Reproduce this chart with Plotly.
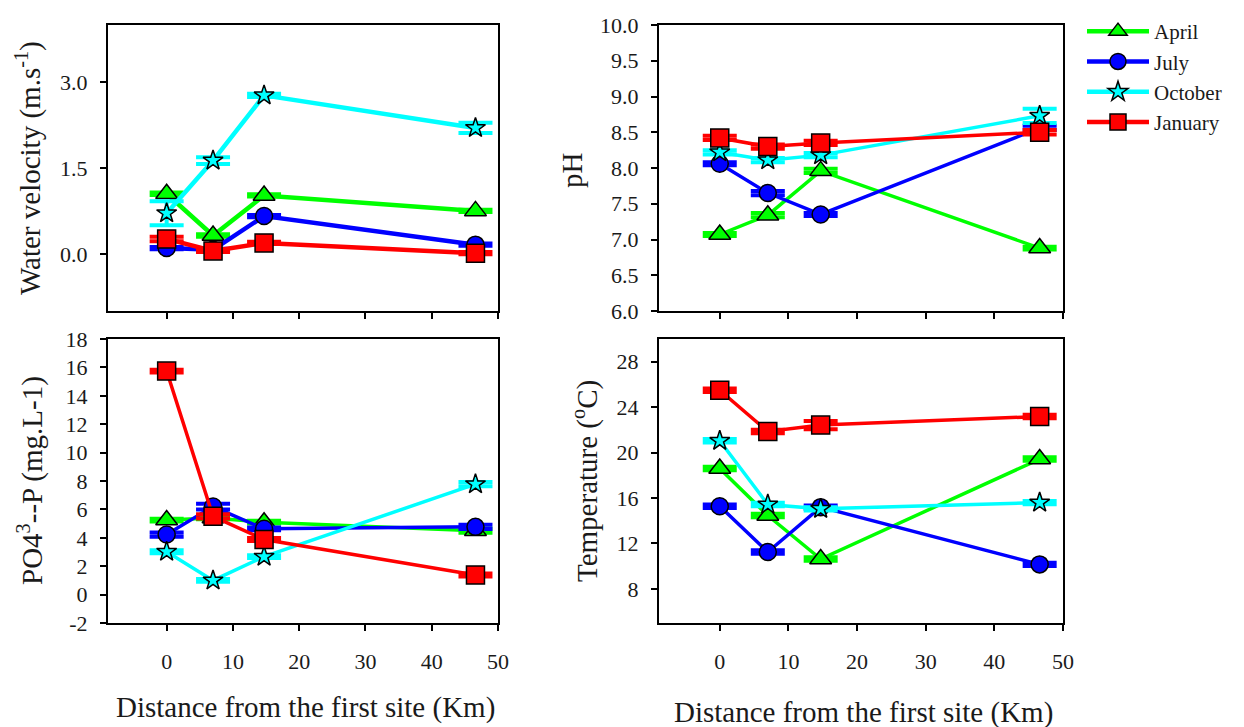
import plotly.graph_objects as go

# ---------------- data ----------------
distance = [0, 7, 14.7, 46.6]
months = ["April", "July", "October", "January"]
colors = ["#00ff00", "#0000ff", "#00ffff", "#ff0000"]
symbols = ["triangle-up", "circle", "star", "square"]
marker_sizes = [19, 17, 15, 18]

x_ticks = [0, 10, 20, 30, 40, 50]
vel_ticks = [0, 1.5, 3.0]
vel_labels = ["0.0", "1.5", "3.0"]
ph_ticks = [6, 6.5, 7, 7.5, 8, 8.5, 9, 9.5, 10]
ph_labels = ["6.0", "6.5", "7.0", "7.5", "8.0", "8.5", "9.0", "9.5", "10.0"]
po4_ticks = [-2, 0, 2, 4, 6, 8, 10, 12, 14, 16, 18]
po4_labels = ["-2", "0", "2", "4", "6", "8", "10", "12", "14", "16", "18"]
temp_ticks = [8, 12, 16, 20, 24, 28]
temp_labels = ["8", "12", "16", "20", "24", "28"]

vel_april = [1.05, 0.32, 1.02, 0.75]
vel_july = [0.10, 0.07, 0.66, 0.16]
vel_october = [0.71, 1.63, 2.77, 2.20]
vel_january = [0.26, 0.05, 0.19, 0.01]
vel_err_april = [0.02, 0.02, 0.02, 0.02]
vel_err_july = [0.02, 0.02, 0.02, 0.02]
vel_err_october = [0.21, 0.06, 0.03, 0.09]
vel_err_january = [0.04, 0.02, 0.02, 0.02]

ph_april = [7.07, 7.34, 7.96, 6.88]
ph_july = [8.06, 7.65, 7.35, 8.56]
ph_october = [8.22, 8.11, 8.18, 8.73]
ph_january = [8.42, 8.30, 8.35, 8.50]
ph_err_april = [0.02, 0.03, 0.03, 0.02]
ph_err_july = [0.02, 0.03, 0.02, 0.03]
ph_err_october = [0.03, 0.03, 0.03, 0.10]
ph_err_january = [0.03, 0.03, 0.03, 0.03]

po4_april = [5.25, 5.4, 5.1, 4.5]
po4_july = [4.23, 6.2, 4.63, 4.77]
po4_october = [3.02, 1.0, 2.67, 7.78]
po4_january = [15.74, 5.51, 3.88, 1.38]
po4_err_april = [0.1, 0.1, 0.1, 0.15]
po4_err_july = [0.15, 0.2, 0.1, 0.15]
po4_err_october = [0.1, 0.1, 0.1, 0.15]
po4_err_january = [0.1, 0.15, 0.1, 0.1]

temp_april = [18.6, 14.46, 10.63, 19.43]
temp_july = [15.28, 11.25, 15.2, 10.16]
temp_october = [21.04, 15.43, 15.05, 15.6]
temp_january = [25.49, 21.86, 22.42, 23.18]
temp_err_april = [0.15, 0.15, 0.15, 0.15]
temp_err_july = [0.15, 0.15, 0.15, 0.15]
temp_err_october = [0.15, 0.15, 0.15, 0.15]
temp_err_january = [0.15, 0.15, 0.37, 0.15]

panels = [
    ("x", "y", [vel_april, vel_july, vel_october, vel_january],
     [vel_err_april, vel_err_july, vel_err_october, vel_err_january], 4.5),
    ("x2", "y2", [ph_april, ph_july, ph_october, ph_january],
     [ph_err_april, ph_err_july, ph_err_october, ph_err_january], 3.5),
    ("x3", "y3", [po4_april, po4_july, po4_october, po4_january],
     [po4_err_april, po4_err_july, po4_err_october, po4_err_january], 3.5),
    ("x4", "y4", [temp_april, temp_july, temp_october, temp_january],
     [temp_err_april, temp_err_july, temp_err_october, temp_err_january], 3.5),
]

fig = go.Figure()
for pi, (xa, ya, series, errs, lw) in enumerate(panels):
    for i, m in enumerate(months):
        fig.add_trace(go.Scatter(
            x=distance, y=series[i], xaxis=xa, yaxis=ya,
            mode="lines+markers", name=m, legendgroup=m,
            showlegend=(pi == 0),
            line=dict(color=colors[i], width=lw),
            marker=dict(symbol=symbols[i], size=marker_sizes[i], color=colors[i],
                        line=dict(color="black", width=1.5)),
            error_y=dict(type="data", array=errs[i], color=colors[i],
                         thickness=4, width=17),
        ))

font_family = "Liberation Serif, Times New Roman, serif"
tick_font = dict(family=font_family, size=22, color="#1a1a1a")

def xaxis_cfg(domain, labels, anchor):
    return dict(domain=domain, range=[-8.85, 50], tickvals=x_ticks,
                showticklabels=labels, ticks="outside", ticklen=6, tickwidth=1.5,
                tickcolor="black", showline=True, linecolor="black", linewidth=2,
                mirror=True, showgrid=False, zeroline=False, tickfont=tick_font,
                ticklabelstandoff=12, automargin=False, anchor=anchor)

def yaxis_cfg(domain, rng, tv, tt, anchor):
    return dict(domain=domain, range=rng, tickvals=tv, ticktext=tt,
                ticks="outside", ticklen=6, tickwidth=1.5, tickcolor="black",
                showline=True, linecolor="black", linewidth=2, mirror=True,
                showgrid=False, zeroline=False, tickfont=tick_font, anchor=anchor,
                ticklabelstandoff=8, automargin=False)

W, H = 1244, 727
dl = [108 / W, 498 / W]
dr = [659 / W, 1063 / W]
dt = [1 - 311 / H, 1 - 25 / H]
db = [1 - 623 / H, 1 - 339 / H]

fig.update_layout(
    width=W, height=H, margin=dict(l=0, r=0, t=0, b=0, autoexpand=False),
    paper_bgcolor="white", plot_bgcolor="white",
    xaxis=xaxis_cfg(dl, False, "y"),
    xaxis2=xaxis_cfg(dr, False, "y2"),
    xaxis3=xaxis_cfg(dl, True, "y3"),
    xaxis4=xaxis_cfg(dr, True, "y4"),
    yaxis=yaxis_cfg(dt, [-1, 4], vel_ticks, vel_labels, "x"),
    yaxis2=yaxis_cfg(dt, [6, 10], ph_ticks, ph_labels, "x2"),
    yaxis3=yaxis_cfg(db, [-2, 18], po4_ticks, po4_labels, "x3"),
    yaxis4=yaxis_cfg(db, [5, 30], temp_ticks, temp_labels, "x4"),
    legend=dict(x=1082 / W, y=1 - 11 / H, xanchor="left", yanchor="top",
                font=dict(family=font_family, size=21, color="#1a1a1a"),
                itemwidth=62, tracegroupgap=0, bgcolor="rgba(0,0,0,0)"),
    showlegend=True,
)

title_font = dict(family=font_family, size=29, color="#1a1a1a")
annots = [
    dict(text="Water velocity (m.s<sup>-1</sup>)", x=28 / W, y=1 - 168 / H, textangle=-90),
    dict(text="pH", x=572 / W, y=1 - 170 / H, textangle=-90),
    dict(text="PO4<sup>3</sup>--P (mg.L-1)", x=30 / W, y=1 - 481 / H, textangle=-90),
    dict(text="Temperature (<sup>o</sup>C)", x=585 / W, y=1 - 481 / H, textangle=-90),
    dict(text="Distance from the first site (Km)", x=305 / W, y=1 - 707 / H, textangle=0),
    dict(text="Distance from the first site (Km)", x=863 / W, y=1 - 712 / H, textangle=0),
]
for a in annots:
    fig.add_annotation(xref="paper", yref="paper", showarrow=False,
                       xanchor="center", yanchor="middle", font=title_font, **a)

fig.write_html("out.html")
